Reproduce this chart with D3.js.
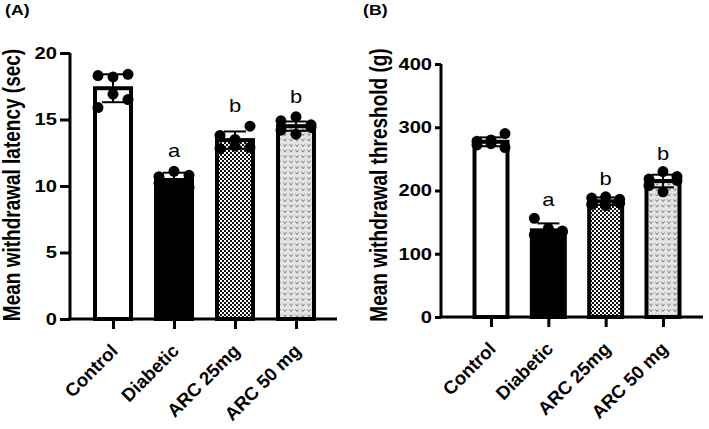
<!DOCTYPE html>
<html><head><meta charset="utf-8">
<script src="https://cdn.jsdelivr.net/npm/d3@7"></script>
<style>body{margin:0;background:#fff} svg{display:block} text{font-family:"Liberation Sans",Arial,sans-serif}</style>
</head><body><svg id="c" width="709" height="429"></svg>
<script>
const categories = ["Control", "Diabetic", "ARC 25mg", "ARC 50 mg"];
const sigLetters = ["", "a", "b", "b"];

const latencyMean = [17.35, 10.45, 13.45, 14.5];
const latencySD = [1.05, 0.55, 0.65, 0.35];
const latencyPoints = [
  [18.3, 18.2, 18.4, 15.9, 16.9, 16.5],
  [10.7, 11.1, 10.8, 10.2, 10.0, 9.9],
  [13.8, 13.5, 14.5, 12.8, 13.0, 12.9],
  [14.9, 15.2, 14.6, 14.2, 13.9, 14.4]
];
const latencyTicks = [0, 5, 10, 15, 20];

const thresholdMean = [277, 137, 183, 215];
const thresholdSD = [7, 11, 6, 10];
const thresholdPoints = [
  [278, 280, 290, 272, 274, 268],
  [156, 140, 136, 130, 126, 134],
  [188, 190, 186, 178, 176, 180],
  [218, 230, 222, 208, 198, 216]
];
const thresholdTicks = [0, 100, 200, 300, 400];

const svg = d3.select("#c");
const defs = svg.append("defs");
const S = 1.22; // horizontal text stretch seen in the reference

// checkerboard
const pc = defs.append("pattern").attr("id", "checker").attr("patternUnits", "userSpaceOnUse")
  .attr("width", 4).attr("height", 4);
pc.append("rect").attr("width", 4).attr("height", 4).attr("fill", "#111");
pc.append("rect").attr("x", 0).attr("y", 0).attr("width", 2).attr("height", 2).attr("fill", "#fff");
pc.append("rect").attr("x", 2).attr("y", 2).attr("width", 2).attr("height", 2).attr("fill", "#fff");

// light grey with small v marks
const pv = defs.append("pattern").attr("id", "vmark").attr("patternUnits", "userSpaceOnUse")
  .attr("width", 6).attr("height", 5.5);
pv.append("rect").attr("width", 6).attr("height", 5.5).attr("fill", "#e4e4e4");
pv.append("path").attr("d", "M1.4,1.4 L3,3.6 L4.6,1.4").attr("fill", "none").attr("stroke", "#6a6a6a").attr("stroke-width", 0.9);

const fills = ["#fff", "#000", "url(#checker)", "url(#vmark)"];
const offsets = [-1, 0, 1, -1, 0, 1];

function panel(cfg) {
  const g = svg.append("g");
  const y = d3.scaleLinear().domain(cfg.domain).range([cfg.y0, cfg.y1]);
  const x = d3.scalePoint().domain(categories).range([cfg.c0, cfg.c1]);
  const bw = cfg.barW;

  // bars
  g.selectAll("rect.bar").data(categories).join("rect")
    .attr("x", d => x(d) - bw / 2)
    .attr("width", bw)
    .attr("y", (d, i) => y(cfg.mean[i]))
    .attr("height", (d, i) => y(0) - y(cfg.mean[i]))
    .attr("fill", (d, i) => fills[i])
    .attr("stroke", "#000").attr("stroke-width", 4);

  // points
  categories.forEach((c, i) => {
    g.selectAll(null).data(cfg.points[i]).join("circle")
      .attr("cx", (d, j) => x(c) + offsets[j] * cfg.jit)
      .attr("cy", d => y(d))
      .attr("r", 5.5).attr("fill", "#000");
  });

  // error bars
  categories.forEach((c, i) => {
    const cx = x(c), m = cfg.mean[i], s = cfg.sd[i];
    const eg = g.append("g").attr("stroke", "#000").attr("stroke-width", 2);
    eg.append("line").attr("x1", cx).attr("x2", cx).attr("y1", y(m - s)).attr("y2", y(m + s));
    eg.append("line").attr("x1", cx - 11).attr("x2", cx + 11).attr("y1", y(m + s)).attr("y2", y(m + s));
    eg.append("line").attr("x1", cx - 11).attr("x2", cx + 11).attr("y1", y(m - s)).attr("y2", y(m - s));
  });

  // letters
  categories.forEach((c, i) => {
    if (!sigLetters[i]) return;
    const top = Math.max(d3.max(cfg.points[i]), cfg.mean[i] + cfg.sd[i]);
    g.append("text").attr("transform", `translate(${x(c)},${y(top) - cfg.letterGap}) scale(${S},1)`)
      .attr("text-anchor", "middle").attr("font-size", 18).text(sigLetters[i]);
  });

  // y axis
  const ya = g.append("g").attr("transform", `translate(${cfg.ax},0)`)
    .call(d3.axisLeft(y).tickValues(cfg.ticks).tickSize(cfg.yTick).tickPadding(3));
  ya.select(".domain").attr("stroke-width", 3).attr("d", `M0,${y(0)}V${y(cfg.domain[1])}`);
  ya.selectAll(".tick line").attr("stroke-width", 3);
  ya.selectAll(".tick text").attr("font-size", 16.5).attr("font-weight", "bold")
    .attr("font-family", "Liberation Sans, Arial, sans-serif").attr("fill", "#000")
    .attr("x", -(cfg.yTick + 3) / S).attr("transform", `scale(${S},1)`);

  // x axis
  const xa = g.append("g").attr("transform", `translate(0,${y(0)})`)
    .call(d3.axisBottom(x).tickSize(10).tickFormat(""));
  xa.select(".domain").remove();
  xa.selectAll(".tick line").attr("stroke-width", 3);
  g.append("line").attr("x1", cfg.ax - 1.5).attr("x2", cfg.axEnd).attr("y1", y(0)).attr("y2", y(0))
    .attr("stroke", "#000").attr("stroke-width", 3);
  g.selectAll("text.xl").data(categories).join("text")
    .attr("transform", d => `translate(${x(d) + 6},${y(0) + 33}) rotate(-45)`)
    .attr("text-anchor", "end").attr("font-size", 18.5).attr("font-weight", "bold").text(d => d);

  // title
  g.append("text").attr("transform", `translate(${cfg.tx},${cfg.ty}) scale(${S},1) rotate(-90)`)
    .attr("text-anchor", "middle").attr("font-size", 19).attr("font-weight", "bold").text(cfg.title);
  g.append("text").attr("transform", `translate(${cfg.lx},15) scale(${S},1)`)
    .attr("font-size", 14.5).attr("font-weight", "bold").text(cfg.label);
}

panel({
  domain: [0, 20], y0: 319, y1: 53, c0: 113, c1: 296, barW: 36, jit: 15, yTick: 10, letterGap: 14,
  mean: latencyMean, sd: latencySD, points: latencyPoints, ticks: latencyTicks,
  ax: 70, axEnd: 337, tx: 19.5, ty: 185, title: "Mean withdrawal latency (sec)", lx: 5, label: "(A)"
});
panel({
  domain: [0, 400], y0: 317, y1: 64, c0: 491, c1: 663, barW: 33, jit: 14, yTick: 6, letterGap: 12,
  mean: thresholdMean, sd: thresholdSD, points: thresholdPoints, ticks: thresholdTicks,
  ax: 441, axEnd: 703, tx: 387, ty: 185, title: "Mean withdrawal threshold (g)", lx: 363, label: "(B)"
});
</script></body></html>
